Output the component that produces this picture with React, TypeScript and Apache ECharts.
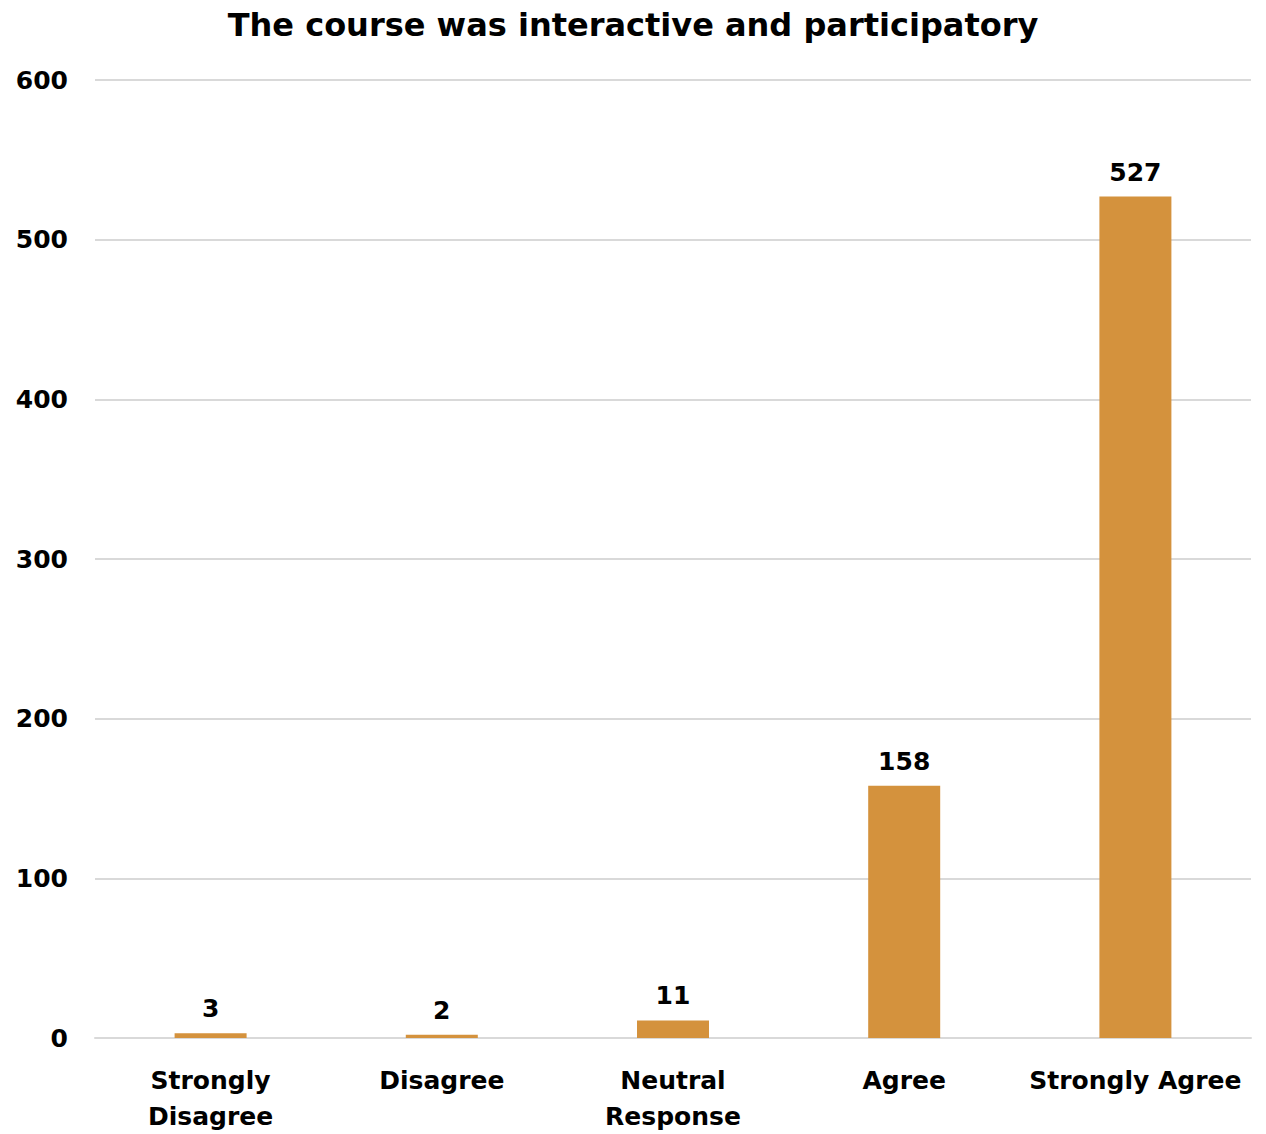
import React, { useEffect, useRef } from "react";
import * as echarts from "echarts";

const categories = ["Strongly\nDisagree", "Disagree", "Neutral\nResponse", "Agree", "Strongly Agree"];
const values = [3, 2, 11, 158, 527];
const yTicks = [0, 100, 200, 300, 400, 500, 600];
const titleText = "The course was interactive and participatory";

export default function App() {
  const ref = useRef<HTMLDivElement>(null);
  useEffect(() => {
    const chart = echarts.init(ref.current!, undefined, { renderer: "svg" });
    const font = "DejaVu Sans";
    chart.setOption({
      animation: false,
      backgroundColor: "#ffffff",
      title: {
        text: titleText,
        left: "center",
        top: 4,
        textStyle: { fontFamily: font, fontWeight: "bold", fontSize: 32, color: "#000" },
      },
      grid: { left: 95, right: 15, top: 80, bottom: 94, containLabel: false },
      xAxis: {
        type: "category",
        data: categories,
        axisLine: { show: true, lineStyle: { color: "#d9d9d9", width: 2 } },
        axisTick: { show: false },
        axisLabel: {
          fontFamily: font,
          fontWeight: "bold",
          fontSize: 25,
          color: "#000",
          margin: 24,
          lineHeight: 36,
          interval: 0,
        },
      },
      yAxis: {
        type: "value",
        min: yTicks[0],
        max: yTicks[yTicks.length - 1],
        interval: 100,
        axisLine: { show: false },
        axisTick: { show: false },
        splitLine: { lineStyle: { color: "#d9d9d9", width: 2 } },
        axisLabel: {
          fontFamily: font,
          fontWeight: "bold",
          fontSize: 25,
          color: "#000",
          margin: 27,
        },
      },
      series: [
        {
          type: "bar",
          data: values,
          barWidth: 72,
          itemStyle: { color: "#D4923D" },
          label: {
            show: true,
            position: "top",
            distance: 12,
            fontFamily: font,
            fontWeight: "bold",
            fontSize: 25,
            color: "#000",
          },
        },
      ],
    });
    return () => chart.dispose();
  }, []);
  return (
    <div
      ref={ref}
      style={{ position: "fixed", left: 0, top: 0, width: 1266, height: 1134 }}
    />
  );
}
